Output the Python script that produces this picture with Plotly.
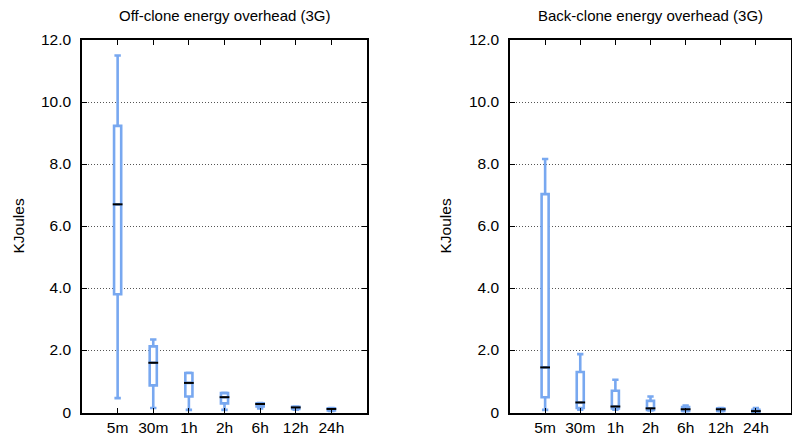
import plotly.graph_objects as go

categories = ["5m", "30m", "1h", "2h", "6h", "12h", "24h"]

# Off-clone energy overhead (3G), KJoules
off_low = [0.45, 0.13, 0.07, 0.07, 0.12, 0.08, 0.04]
off_q1 = [3.80, 0.86, 0.50, 0.28, 0.18, 0.10, 0.05]
off_med = [6.70, 1.59, 0.94, 0.48, 0.26, 0.15, 0.10]
off_q3 = [9.23, 2.12, 1.26, 0.61, 0.28, 0.17, 0.12]
off_high = [11.50, 2.34, 1.27, 0.62, 0.29, 0.18, 0.13]

# Back-clone energy overhead (3G), KJoules
back_low = [0.07, 0.08, 0.08, 0.05, 0.03, 0.03, 0.01]
back_q1 = [0.48, 0.13, 0.12, 0.07, 0.04, 0.04, 0.01]
back_med = [1.44, 0.31, 0.18, 0.12, 0.09, 0.09, 0.03]
back_q3 = [7.03, 1.29, 0.69, 0.36, 0.16, 0.12, 0.07]
back_high = [8.16, 1.87, 1.04, 0.50, 0.21, 0.13, 0.13]

y_ticks = [0, 2, 4, 6, 8, 10, 12]
y_tick_labels = ["0", "2.0", "4.0", "6.0", "8.0", "10.0", "12.0"]

titles = ["Off-clone energy overhead (3G)", "Back-clone energy overhead (3G)"]

BLUE = "#78a8f0"
FONT = "Liberation Sans, Arial, Helvetica, sans-serif"

fig = go.Figure()

panels = [
    (off_low, off_q1, off_med, off_q3, off_high, "x", "y"),
    (back_low, back_q1, back_med, back_q3, back_high, "x2", "y2"),
]
for low, q1, med, q3, high, xa, ya in panels:
    fig.add_trace(go.Box(
        x=categories, lowerfence=low, q1=q1, median=med, q3=q3, upperfence=high,
        xaxis=xa, yaxis=ya, fillcolor="white",
        line=dict(color=BLUE, width=2.6), width=0.2, whiskerwidth=0.9,
        boxpoints=False, showlegend=False, hoverinfo="skip",
    ))
    fig.add_trace(go.Scatter(
        x=categories, y=med, xaxis=xa, yaxis=ya, mode="markers",
        marker=dict(symbol="line-ew", size=7, line=dict(color="black", width=2)),
        showlegend=False, hoverinfo="skip",
    ))

xdoms = [[82 / 792, 367 / 792], [510 / 792, 791 / 792]]
ydom = [1 - 413 / 441, 1 - 40 / 441]

common_x = dict(
    type="category", categoryorder="array", categoryarray=categories,
    range=[-1, 7], showline=True, linecolor="black", linewidth=1.5, mirror="ticks",
    ticks="inside", ticklen=5, tickcolor="black", tickwidth=1,
    showgrid=False, zeroline=False, automargin=False,
    tickfont=dict(family=FONT, size=15.5, color="black"),
)
common_y = dict(
    range=[-0.03, 12], tickvals=y_ticks, ticktext=y_tick_labels,
    showline=True, linecolor="black", linewidth=1.5, mirror="ticks",
    ticks="inside", ticklen=5, tickcolor="black", tickwidth=1,
    showgrid=True, gridcolor="#555555", griddash="1px,2px", gridwidth=1,
    zeroline=False, ticklabelstandoff=6, automargin=False,
    tickfont=dict(family=FONT, size=15.5, color="black"),
)

fig.update_layout(
    width=792, height=441,
    margin=dict(l=0, r=0, t=0, b=0, autoexpand=False),
    paper_bgcolor="white", plot_bgcolor="white",
    xaxis=dict(domain=xdoms[0], anchor="y", **common_x),
    yaxis=dict(domain=ydom, anchor="x", **common_y),
    xaxis2=dict(domain=xdoms[1], anchor="y2", **common_x),
    yaxis2=dict(domain=ydom, anchor="x2", **common_y),
    font=dict(family=FONT, color="black"),
)

annotations = []
for i, t in enumerate(titles):
    cx = (xdoms[i][0] + xdoms[i][1]) / 2
    annotations.append(dict(
        text=t, x=cx, y=1 - 16 / 441, xref="paper", yref="paper",
        xanchor="center", yanchor="middle", showarrow=False,
        font=dict(family=FONT, size=15, color="black"),
    ))
for xpix in [18, 445]:
    annotations.append(dict(
        text="KJoules", x=xpix / 792, y=(ydom[0] + ydom[1]) / 2,
        xref="paper", yref="paper", xanchor="center", yanchor="middle",
        textangle=-90, showarrow=False,
        font=dict(family=FONT, size=15.5, color="black"),
    ))
fig.update_layout(annotations=annotations)

fig.write_html("out.html")
